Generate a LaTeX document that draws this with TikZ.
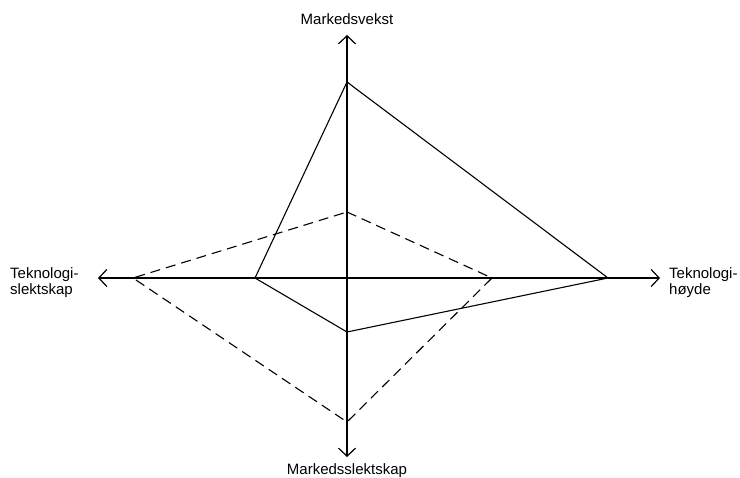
\documentclass[tikz,border=0pt]{standalone}
\usepackage{fontspec}
\setmainfont{Liberation Sans}
\usetikzlibrary{arrows.meta}
\tikzset{
  axis/.style={line width=1.2pt, arrows={Straight Barb[length=8pt,width=17pt,line width=1.2pt]-Straight Barb[length=8pt,width=17pt,line width=1.2pt]}},
  solidpoly/.style={line width=1.1pt, line join=round},
  dashpoly/.style={line width=1.1pt, dash pattern=on 10pt off 6pt, line join=round},
  lbl/.style={font=\fontsize{15}{16}\selectfont, inner sep=0pt}
}
\begin{document}
\begin{tikzpicture}[x=1pt,y=-1pt]
\useasboundingbox (0,0) rectangle (740,478);
% axes
\coordinate (L) at (98,278);
\coordinate (R) at (660,278);
\coordinate (T) at (347,35);
\coordinate (B) at (347,457);
\draw[axis] (L) -- (R);
\draw[axis] (B) -- (T);
% solid profile
\coordinate (s1) at (347,82);
\coordinate (s2) at (608,278);
\coordinate (s3) at (347,332);
\coordinate (s4) at (255,278);
\draw[solidpoly] (s1) -- (s2) -- (s3) -- (s4) -- cycle;
% dashed profile
\coordinate (d1) at (347,212);
\coordinate (d2) at (492,278);
\coordinate (d3) at (347,422);
\coordinate (d4) at (133,278);
\draw[dashpoly] (d1) -- (d2) -- (d3) -- (d4) -- cycle;
% labels
\node[lbl] (top) at (347,19) {Markedsvekst};
\node[lbl] (bot) at (347,471) {Markedsslektskap};
\node[lbl, anchor=west, align=left] (left) at (10,283) {Teknologi-\\slektskap};
\node[lbl, anchor=west, align=left] (right) at (669,283) {Teknologi-\\høyde};
\end{tikzpicture}
\end{document}
